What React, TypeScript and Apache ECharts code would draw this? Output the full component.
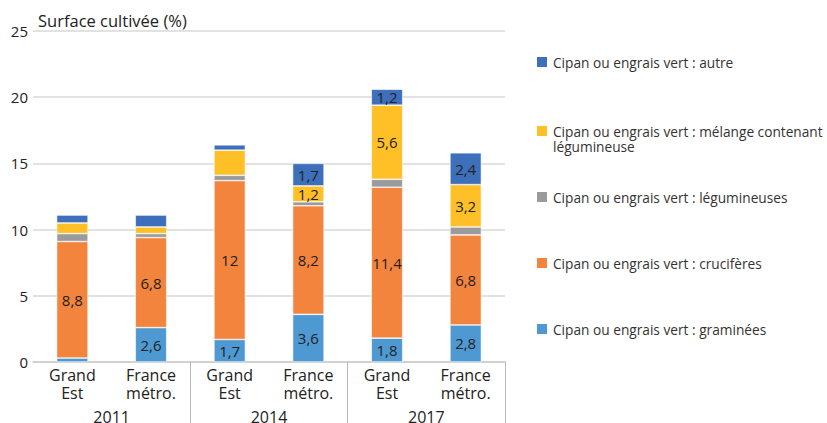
import React, { useEffect, useRef } from "react";
import * as echarts from "echarts";

const categories = ["Grand\nEst", "France\nmétro.", "Grand\nEst", "France\nmétro.", "Grand\nEst", "France\nmétro."];
const years = ["2011", "2014", "2017"];
const yTicks = { min: 0, max: 25, interval: 5 };

const graminees = [0.3, 2.6, 1.7, 3.6, 1.8, 2.8];
const cruciferes = [8.8, 6.8, 12, 8.2, 11.4, 6.8];
const legumineuses = [0.6, 0.3, 0.4, 0.3, 0.6, 0.6];
const melange = [0.8, 0.5, 1.9, 1.2, 5.6, 3.2];
const autre = [0.6, 0.9, 0.4, 1.7, 1.2, 2.4];

// value labels as printed on the reference (empty = not printed)
const grumineesLabels = ["", "2,6", "1,7", "3,6", "1,8", "2,8"];
const cruciferesLabels = ["8,8", "6,8", "12", "8,2", "11,4", "6,8"];
const legumineusesLabels = ["", "", "", "", "", ""];
const melangeLabels = ["", "", "", "1,2", "5,6", "3,2"];
const autreLabels = ["", "", "", "1,7", "1,2", "2,4"];

const seriesDefs = [
  { name: "Cipan ou engrais vert : graminées", data: graminees, labels: grumineesLabels, color: "#4F99D3" },
  { name: "Cipan ou engrais vert : crucifères", data: cruciferes, labels: cruciferesLabels, color: "#F2843D" },
  { name: "Cipan ou engrais vert : légumineuses", data: legumineuses, labels: legumineusesLabels, color: "#9A9B9C" },
  { name: "Cipan ou engrais vert : mélange contenant\nlégumineuse", data: melange, labels: melangeLabels, color: "#FFBF27" },
  { name: "Cipan ou engrais vert : autre", data: autre, labels: autreLabels, color: "#3D6FBA" },
];

const legendCenters = [62, 131, 197, 263, 329].reverse();

const FONT = "'Open Sans', 'Noto Sans', sans-serif";

export default function App() {
  const ref = useRef<HTMLDivElement>(null);
  useEffect(() => {
    document.body.style.margin = "0";
    if (!ref.current) return;
    const chart = echarts.init(ref.current, null, { renderer: "svg" });
    const legends = seriesDefs.map((s, i) => {
      const twoLine = s.name.includes("\n");
      return {
        orient: "vertical",
        left: 535,
        top: twoLine ? legendCenters[i] - 22.5 : legendCenters[i] - 8,
        padding: 0,
        itemWidth: 12,
        itemHeight: 12,
        icon: "rect",
        selectedMode: false,
        data: [s.name],
        formatter: twoLine ? (name: string) => " \n" + name : undefined,
        textStyle: {
          fontFamily: FONT,
          fontSize: 13.7,
          color: "#333",
          lineHeight: twoLine ? 15 : 16,
        },
      };
    });
    chart.setOption({
      animation: false,
      textStyle: { fontFamily: FONT },
      grid: { left: 33, right: 322, top: 31, bottom: 61, outerBoundsMode: "none", containLabel: false },
      legend: legends,
      xAxis: [
        {
          type: "category",
          data: categories,
          position: "bottom",
          axisLine: { lineStyle: { color: "#cccccc", width: 1.5 } },
          axisTick: {
            show: true,
            length: 65,
            interval: (index: number) => index === 2 || index === 4,
            lineStyle: { color: "#b8b8b8", width: 1 },
          },
          axisLabel: { fontFamily: FONT, fontSize: 16, color: "#222", lineHeight: 18, margin: 4, interval: 0 },
        },
        {
          type: "category",
          data: years,
          position: "bottom",
          offset: 45,
          axisLine: { show: false },
          axisTick: { show: false },
          axisLabel: { fontFamily: FONT, fontSize: 16, color: "#222", lineHeight: 14, margin: 3 },
        },
      ],
      yAxis: {
        type: "value",
        min: yTicks.min,
        max: yTicks.max,
        interval: yTicks.interval,
        name: "Surface cultivée (%)",
        nameLocation: "end",
        nameGap: 2,
        nameMoveOverlap: false,
        nameTextStyle: {
          fontFamily: FONT,
          fontSize: 16.5,
          color: "#222",
          align: "left",
          verticalAlign: "bottom",
          lineHeight: 18,
          padding: [0, 0, 0, 5],
        },
        axisLine: { show: false },
        axisTick: { show: false },
        splitLine: { lineStyle: { color: "#d9d9d9", width: 1.5 } },
        axisLabel: { fontFamily: FONT, fontSize: 15, color: "#222", margin: 5 },
      },
      series: seriesDefs.map((s) => ({
        name: s.name,
        type: "bar",
        stack: "total",
        xAxisIndex: 0,
        barWidth: "40%",
        data: s.data,
        itemStyle: { color: s.color, borderColor: "#ffffff", borderWidth: 0.6 },
        label: {
          show: true,
          position: "inside",
          fontFamily: FONT,
          fontSize: 15,
          color: "#222",
          formatter: (p: any) => s.labels[p.dataIndex] || "",
        },
      })),
    });
    return () => chart.dispose();
  }, []);
  return <div ref={ref} style={{ width: 827, height: 423 }} />;
}
